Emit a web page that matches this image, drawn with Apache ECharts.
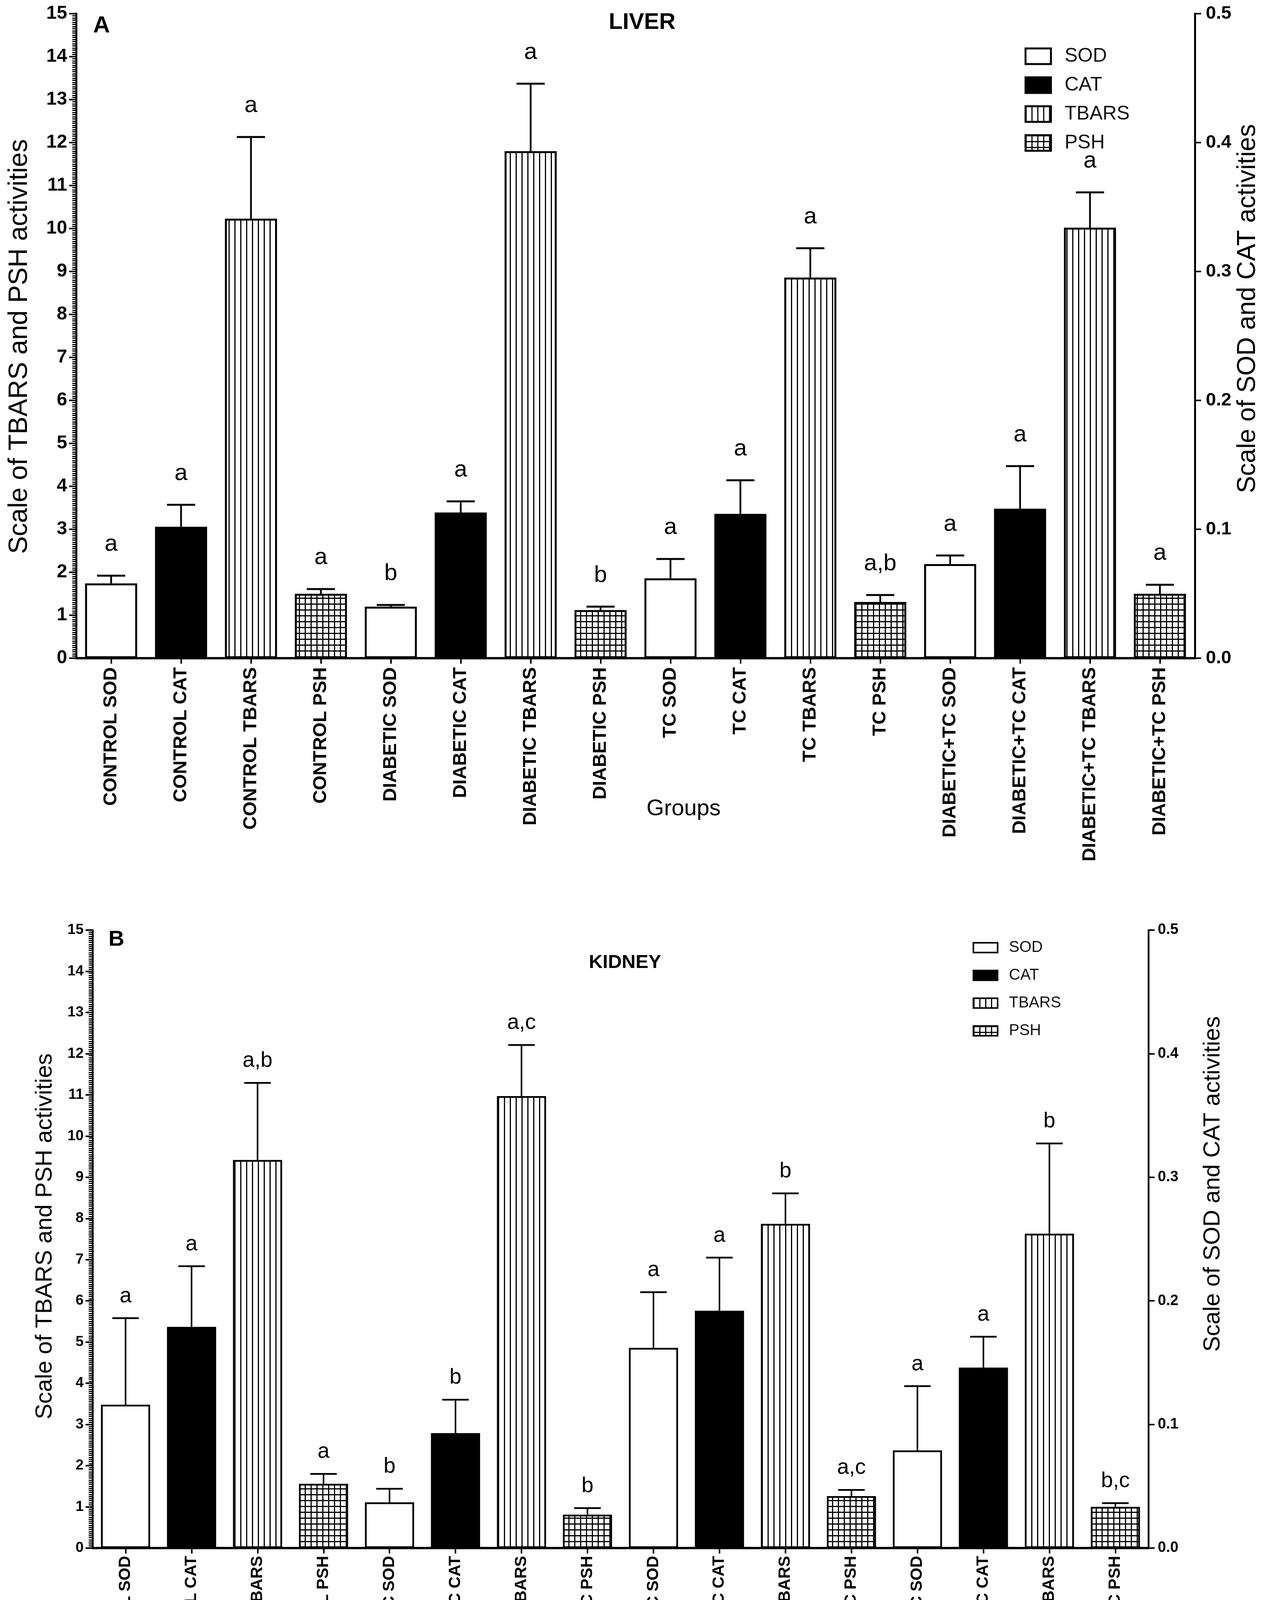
<!DOCTYPE html>
<html>
<head>
<meta charset="utf-8">
<title>Liver and kidney oxidative markers</title>
<script src="https://cdn.jsdelivr.net/npm/echarts@6/dist/echarts.min.js"></script>
<style>
  html, body { margin: 0; padding: 0; background: #fff; }
  #main { width: 3236px; height: 4430px; }
</style>
</head>
<body>
<div id="main"></div>
<script>
// x axis categories (same in both panels)
let categories = ['CONTROL SOD', 'CONTROL CAT', 'CONTROL TBARS', 'CONTROL PSH',
  'DIABETIC SOD', 'DIABETIC CAT', 'DIABETIC TBARS', 'DIABETIC PSH',
  'TC SOD', 'TC CAT', 'TC TBARS', 'TC PSH',
  'DIABETIC+TC SOD', 'DIABETIC+TC CAT', 'DIABETIC+TC TBARS', 'DIABETIC+TC PSH'];
let markers = ['SOD', 'CAT', 'TBARS', 'PSH'];

// axis ranges / ticks
let leftMax = 15, leftStep = 1;
let rightMax = 0.5, rightStep = 0.1;

// A - liver. SOD and CAT are read on the right axis, TBARS and PSH on the left
let liverSOD = [0.058, 0.040, 0.062, 0.073];
let liverSODErr = [0.006, 0.0013, 0.015, 0.0067];
let liverSODSig = ['a', 'b', 'a', 'a'];
let liverCAT = [0.102, 0.113, 0.112, 0.116];
let liverCATErr = [0.017, 0.0087, 0.026, 0.033];
let liverCATSig = ['a', 'a', 'a', 'a'];
let liverTBARS = [10.23, 11.80, 8.86, 10.02];
let liverTBARSErr = [1.90, 1.57, 0.68, 0.82];
let liverTBARSSig = ['a', 'a', 'a', 'a'];
let liverPSH = [1.50, 1.12, 1.31, 1.50];
let liverPSHErr = [0.11, 0.08, 0.16, 0.21];
let liverPSHSig = ['a', 'b', 'a,b', 'a'];

// B - kidney
let kidneySOD = [0.116, 0.037, 0.162, 0.079];
let kidneySODErr = [0.070, 0.011, 0.045, 0.052];
let kidneySODSig = ['a', 'b', 'a', 'a'];
let kidneyCAT = [0.179, 0.093, 0.192, 0.146];
let kidneyCATErr = [0.049, 0.027, 0.043, 0.025];
let kidneyCATSig = ['a', 'b', 'a', 'a'];
let kidneyTBARS = [9.42, 10.97, 7.87, 7.63];
let kidneyTBARSErr = [1.87, 1.24, 0.74, 2.19];
let kidneyTBARSSig = ['a,b', 'a,c', 'b', 'b'];
let kidneyPSH = [1.56, 0.81, 1.26, 1.00];
let kidneyPSHErr = [0.24, 0.16, 0.15, 0.09];
let kidneyPSHSig = ['a', 'b', 'a,c', 'b,c'];

let FONT = '"Liberation Sans", Arial, Helvetica, sans-serif';

// hatch fills for TBARS (vertical lines) and PSH (grid)
function makePattern(grid) {
  let c = document.createElement('canvas');
  c.width = 15; c.height = 15;
  let ctx = c.getContext('2d');
  ctx.fillStyle = '#fff';
  ctx.fillRect(0, 0, 15, 15);
  ctx.fillStyle = '#000';
  ctx.fillRect(0, 0, 3, 15);
  if (grid) ctx.fillRect(0, 0, 15, 3);
  return { image: c, repeat: 'repeat' };
}
let fills = ['#fff', '#000', makePattern(false), makePattern(true)];

// one value per group -> 16 slot array on the category axis
function spread(vals, k) {
  let out = categories.map(() => '-');
  vals.forEach((v, g) => { out[g * 4 + k] = v; });
  return out;
}

let panels = [
  { means: [liverSOD, liverCAT, liverTBARS, liverPSH],
    errs: [liverSODErr, liverCATErr, liverTBARSErr, liverPSHErr],
    sigs: [liverSODSig, liverCATSig, liverTBARSSig, liverPSHSig],
    border: 5, errWidth: 4.5, letterSize: 60, letterGap: 80 },
  { means: [kidneySOD, kidneyCAT, kidneyTBARS, kidneyPSH],
    errs: [kidneySODErr, kidneyCATErr, kidneyTBARSErr, kidneyPSHErr],
    sigs: [kidneySODSig, kidneyCATSig, kidneyTBARSSig, kidneyPSHSig],
    border: 4.5, errWidth: 4, letterSize: 55, letterGap: 56 }
];

let series = [];
panels.forEach((p, idx) => {
  markers.forEach((m, k) => {
    let yIdx = k < 2 ? idx * 2 + 1 : idx * 2;
    series.push({
      type: 'bar', name: m, xAxisIndex: idx, yAxisIndex: yIdx,
      data: spread(p.means[k], k),
      barWidth: '74.5%', barGap: '-100%',
      itemStyle: { color: fills[k], borderColor: '#000', borderWidth: p.border },
      z: 2
    });
    let sig = p.sigs[k];
    series.push({
      type: 'custom', xAxisIndex: idx, yAxisIndex: yIdx, z: 3,
      data: p.means[k].map((v, g) => [g * 4 + k, v, p.errs[k][g]]),
      renderItem: function (params, api) {
        let base = api.coord([api.value(0), api.value(1)]);
        let top = api.coord([api.value(0), api.value(1) + api.value(2)]);
        let half = api.size([1, 0])[0] * 0.745 * 0.27;
        return {
          type: 'group',
          children: [
            { type: 'line', shape: { x1: base[0], y1: base[1], x2: base[0], y2: top[1] },
              style: { stroke: '#000', lineWidth: p.errWidth } },
            { type: 'line', shape: { x1: base[0] - half, y1: top[1], x2: base[0] + half, y2: top[1] },
              style: { stroke: '#000', lineWidth: p.errWidth + 0.5 } },
            { type: 'text', x: base[0], y: top[1] - p.letterGap,
              style: { text: sig[params.dataIndex], fontSize: p.letterSize, fontFamily: FONT,
                       fill: '#000', align: 'center', verticalAlign: 'middle' } }
          ]
        };
      }
    });
  });
});

function xAxisFor(idx, fontSize, margin) {
  return {
    gridIndex: idx, type: 'category', data: categories, boundaryGap: true,
    axisLine: { show: true, lineStyle: { color: '#000', width: 6 } },
    axisTick: { show: true, alignWithLabel: true, length: 14, lineStyle: { color: '#000', width: 4 } },
    axisLabel: { interval: 0, rotate: 90, fontSize: fontSize, fontWeight: 'bold',
                 fontFamily: FONT, color: '#000', margin: margin },
    splitLine: { show: false }
  };
}

function leftAxisFor(idx, fontSize, lw) {
  return {
    gridIndex: idx, type: 'value', position: 'left', min: 0, max: leftMax, interval: leftStep,
    axisLine: { show: true, lineStyle: { color: '#000', width: lw } },
    axisTick: { show: true, length: 18, lineStyle: { color: '#000', width: 4 } },
    minorTick: { show: true, splitNumber: 20, length: 10, lineStyle: { color: '#000', width: 3 } },
    axisLabel: { fontSize: fontSize, fontWeight: 'bold', fontFamily: FONT, color: '#000', margin: 23 },
    splitLine: { show: false }, minorSplitLine: { show: false }
  };
}

function rightAxisFor(idx, fontSize, lw, margin) {
  return {
    gridIndex: idx, type: 'value', position: 'right', min: 0, max: rightMax, interval: rightStep,
    axisLine: { show: true, lineStyle: { color: '#000', width: lw } },
    axisTick: { show: true, length: 16, lineStyle: { color: '#000', width: 4 } },
    axisLabel: { fontSize: fontSize, fontWeight: 'bold', fontFamily: FONT, color: '#000', margin: margin,
                 formatter: v => v.toFixed(1) },
    splitLine: { show: false }
  };
}

function label(text, x, y, size, bold, rot) {
  return {
    type: 'text', x: x, y: y, rotation: rot || 0,
    style: { text: text, fontSize: size, fontWeight: bold ? 'bold' : 'normal', fontFamily: FONT,
             fill: '#000', align: 'center', verticalAlign: 'middle' }
  };
}

let legendText = { fontFamily: FONT, color: '#111' };

let option = {
  animation: false,
  backgroundColor: '#fff',
  grid: [
    { left: 195, top: 35, width: 2864, height: 1650, containLabel: false, outerBoundsMode: 'none' },
    { left: 237, top: 2381, width: 2703, height: 1582, containLabel: false, outerBoundsMode: 'none' }
  ],
  xAxis: [xAxisFor(0, 48, 23), xAxisFor(1, 42, 20)],
  yAxis: [leftAxisFor(0, 48, 5), rightAxisFor(0, 47, 5, 28),
          leftAxisFor(1, 37, 4.5), rightAxisFor(1, 38, 4.5, 24)],
  legend: [
    { data: markers, orient: 'vertical', left: 2618, top: 114, icon: 'rect',
      itemWidth: 65, itemHeight: 40, itemGap: 24, selectedMode: false,
      itemStyle: { borderColor: '#000', borderWidth: 5 },
      textStyle: Object.assign({ fontSize: 50, padding: [0, 0, 0, 30] }, legendText) },
    { data: markers, orient: 'vertical', left: 2485, top: 2401, icon: 'rect',
      itemWidth: 62, itemHeight: 25, itemGap: 31, selectedMode: false,
      itemStyle: { borderColor: '#000', borderWidth: 4 },
      textStyle: Object.assign({ fontSize: 40, padding: [0, 0, 0, 24] }, legendText) }
  ],
  graphic: [
    label('A', 260, 66, 60, true),
    label('LIVER', 1644, 58, 58, true),
    label('Groups', 1750, 2071, 58, false),
    label('Scale of TBARS and PSH activities', 50, 887, 68, false, Math.PI / 2),
    label('Scale of SOD and CAT activities', 3195, 790, 66, false, Math.PI / 2),
    label('B', 298, 2406, 56, true),
    label('KIDNEY', 1600, 2464, 49, true),
    label('Groups', 1731, 4273, 56, false),
    label('Scale of TBARS and PSH activities', 115, 3165, 60, false, Math.PI / 2),
    label('Scale of SOD and CAT activities', 3105, 3031, 60, false, Math.PI / 2)
  ],
  series: series
};

let chart = echarts.init(document.getElementById('main'), null, { renderer: 'canvas' });
chart.setOption(option);
</script>
</body>
</html>
